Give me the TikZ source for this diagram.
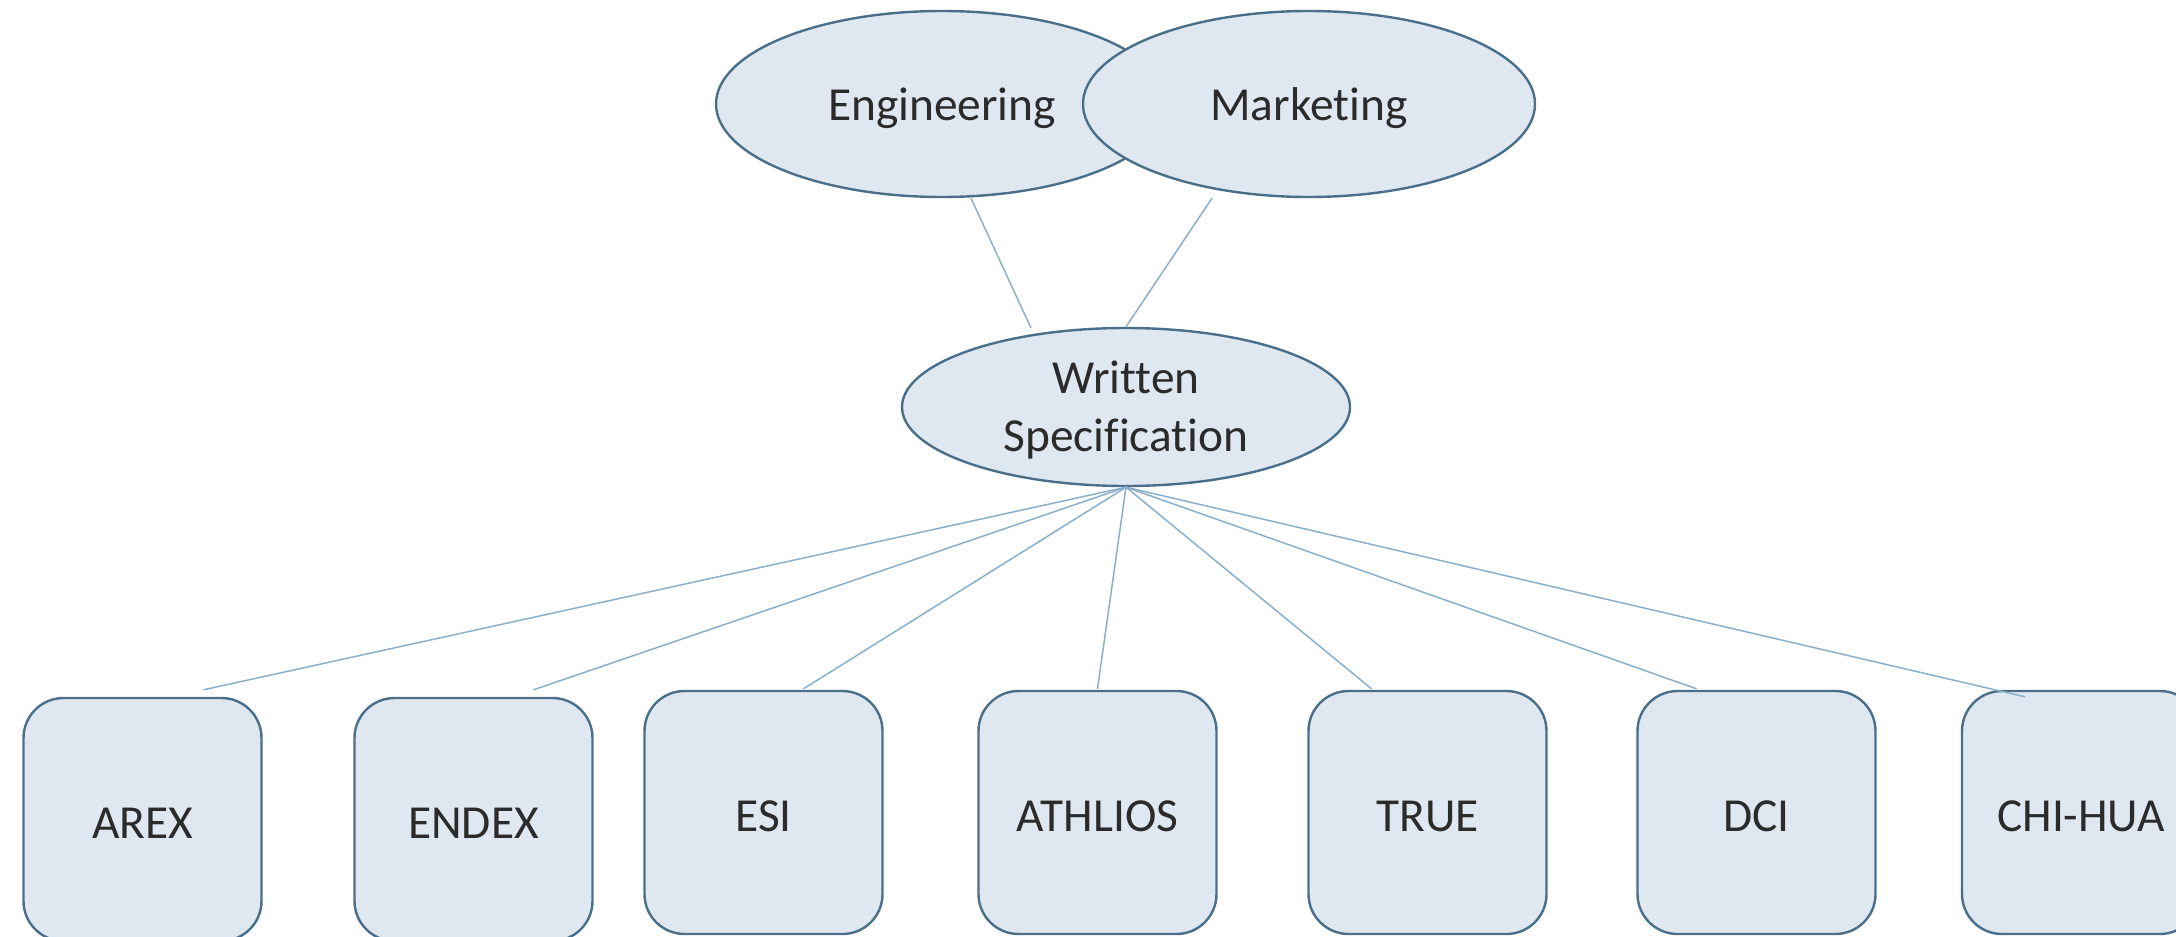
\documentclass[tikz,border=0pt]{standalone}
\usepackage{fontspec}
\setmainfont[Ligatures=NoCommon]{Carlito}
\usetikzlibrary{shapes.geometric,calc}
\definecolor{nodefill}{HTML}{DFE8F0}
\definecolor{nodeline}{HTML}{4A6F8A}
\definecolor{conline}{HTML}{8AAFCB}
\definecolor{txt}{HTML}{2B2B2B}
\newcommand\lowtext[1]{\raisebox{-2.1pt}[\height][\depth]{#1}}
\tikzset{
  x=0.5pt, y=-0.5pt,
  oval/.style={ellipse, draw=nodeline, fill=nodefill, line width=1.2pt, inner sep=0pt,
    text=txt, font=\fontsize{23.7}{29}\selectfont},
  unitbox/.style={rectangle, rounded corners=20pt, draw=nodeline, fill=nodefill, line width=1.2pt,
    minimum width=119pt, minimum height=121.5pt, inner sep=0pt, text=txt,
    font=\fontsize{23.7}{29}\selectfont},
  conn/.style={draw=conline, line width=0.75pt}
}
\begin{document}
\begin{tikzpicture}
\useasboundingbox (0,0) rectangle (2176,937);
\node[oval, minimum width=226pt, minimum height=93pt] (eng) at (942,104) {\lowtext{Engineering}};
\node[oval, minimum width=226pt, minimum height=93pt] (mkt) at (1309,104) {\lowtext{Marketing}};
\node[oval, inner ysep=-1.6pt, minimum width=224pt, minimum height=79pt] (ws) at (1126,407)
  {\lowtext{\begin{tabular}{@{}c@{}}Written\\Specification\end{tabular}}};
\node[unitbox] (arex) at (142.5,819.5) {\lowtext{AREX}};
\node[unitbox] (endex) at (473.5,819.5) {\lowtext{ENDEX}};
\node[unitbox] (esi) at (763.5,812.5) {\lowtext{ESI}};
\node[unitbox] (ath) at (1097.5,812.5) {\lowtext{ATHLIOS}};
\node[unitbox] (true) at (1427.5,812.5) {\lowtext{TRUE}};
\node[unitbox] (dci) at (1756.5,812.5) {\lowtext{DCI}};
\node[unitbox] (chi) at (2081,812.5) {\lowtext{CHI-HUA}};
\draw[conn] ($(eng.south)+(29,0)$) -- ($(ws.center)+(-95,-79)$);
\draw[conn] ($(mkt.south)+(-97,0)$) -- (ws.north);
\draw[conn] (ws.south) -- ($(arex.north)+(61,-7)$);
\draw[conn] (ws.south) -- ($(endex.north)+(60,-7)$);
\draw[conn] (ws.south) -- ($(esi.north)+(40,-1)$);
\draw[conn] (ws.south) -- ($(ath.north)+(0,-1)$);
\draw[conn] (ws.south) -- ($(true.north)+(-56,-1)$);
\draw[conn] (ws.south) -- ($(dci.north)+(-60,-1)$);
\draw[conn] (ws.south) -- ($(chi.north)+(-56,7)$);
\end{tikzpicture}
\end{document}
